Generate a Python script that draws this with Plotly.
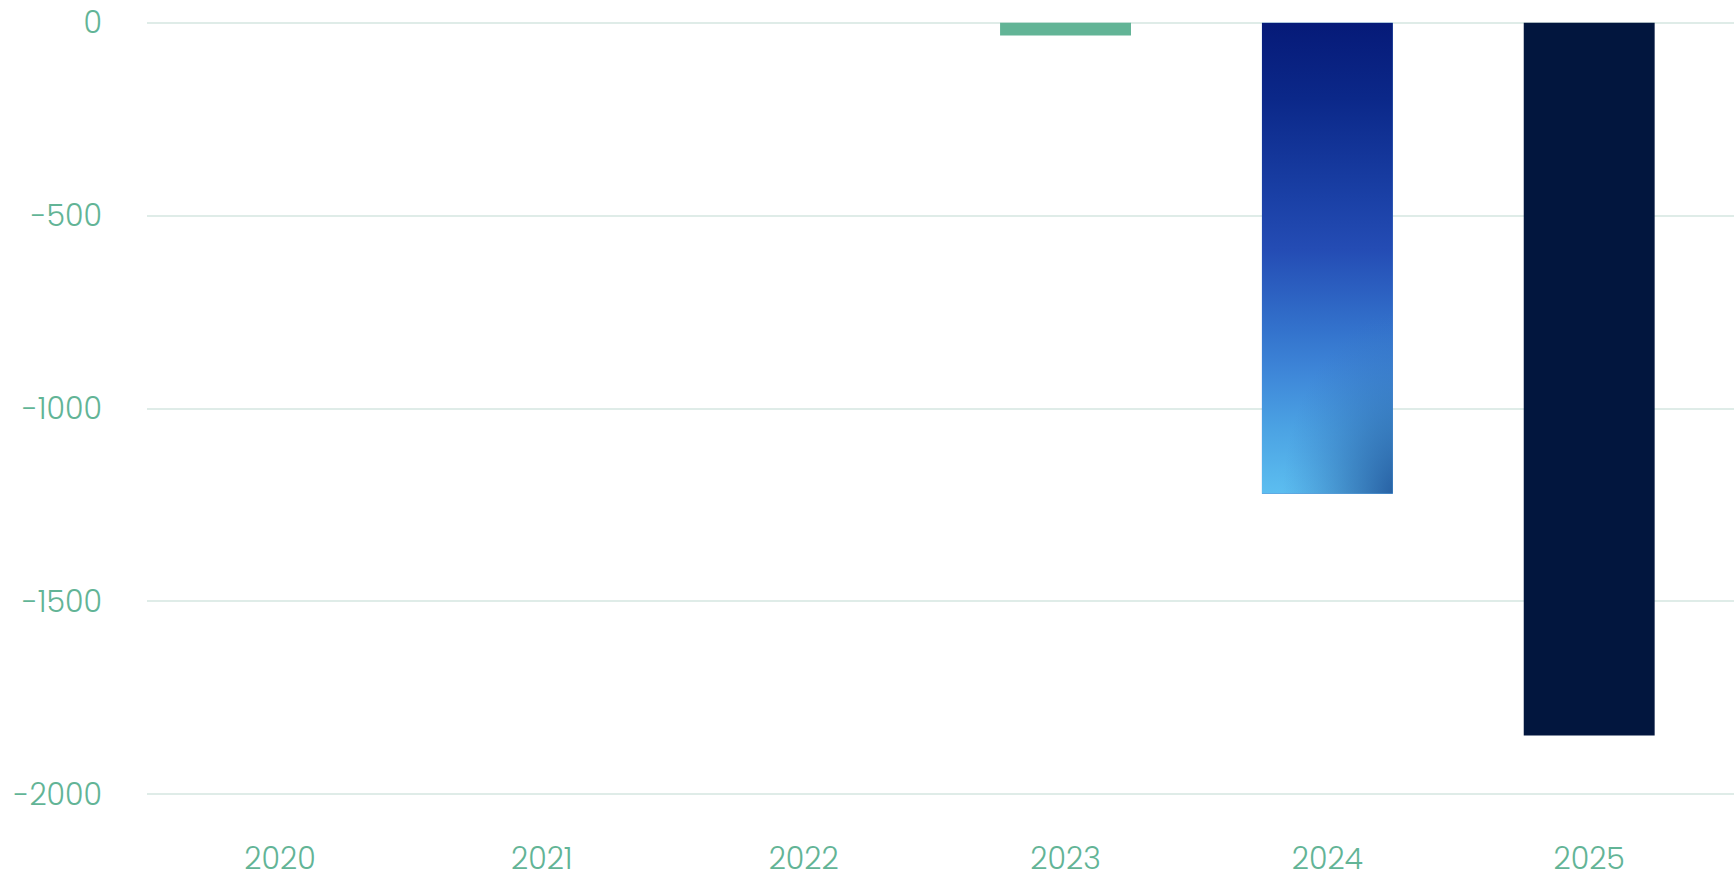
import base64
import plotly.graph_objects as go

# Annual values
years = ["2020", "2021", "2022", "2023", "2024", "2025"]
values = [0, 0, 0, -33, -1221, -1848]
bar_colors = ["#62b496", "#62b496", "#62b496", "#62b496", "#2f6ec6", "#02163e"]

# Y axis ticks
y_ticks = [0, -500, -1000, -1500, -2000]
y_tick_text = ["0", "-500", "-1000", "-1500", "-2000"]

# Which bar gets the gradient fill and its width in category units
gradient_year = "2024"
bar_width = 0.5

label_color = "#62b496"
grid_color = "#dfece8"
font_family = "Poppins, Lato, 'Open Sans', sans-serif"

fig = go.Figure()
fig.add_trace(go.Bar(
    x=years,
    y=values,
    width=bar_width,
    marker=dict(color=bar_colors, line=dict(width=0)),
    hovertemplate="%{x}: %{y}<extra></extra>",
))

# Gradient paint for the highlighted bar: navy at the top to sky blue at the
# bottom, with a darker shade towards the lower right corner.
svg = """<svg xmlns='http://www.w3.org/2000/svg' width='130' height='470' viewBox='0 0 130 470' preserveAspectRatio='none'>
<defs>
<linearGradient id='v' x1='0' y1='0' x2='0' y2='1'>
<stop offset='0' stop-color='#061a78'/>
<stop offset='0.16' stop-color='#0b2889'/>
<stop offset='0.37' stop-color='#1a40a6'/>
<stop offset='0.48' stop-color='#244cb4'/>
<stop offset='0.65' stop-color='#3372cc'/>
<stop offset='0.75' stop-color='#3f88d9'/>
<stop offset='0.85' stop-color='#4aa0e2'/>
<stop offset='1' stop-color='#5cbef0'/>
</linearGradient>
<radialGradient id='r' gradientUnits='userSpaceOnUse' cx='140' cy='480' r='120' gradientTransform='translate(140 480) scale(1 1.6) translate(-140 -480)'>
<stop offset='0' stop-color='#1d4f94' stop-opacity='0.95'/>
<stop offset='0.45' stop-color='#2a62a6' stop-opacity='0.55'/>
<stop offset='1' stop-color='#3a78c0' stop-opacity='0'/>
</radialGradient>
</defs>
<rect x='0' y='0' width='130' height='470' fill='url(#v)'/>
<rect x='0' y='0' width='130' height='470' fill='url(#r)'/>
</svg>"""
svg_uri = "data:image/svg+xml;base64," + base64.b64encode(svg.encode()).decode()

gi = years.index(gradient_year)
fig.add_layout_image(dict(
    source=svg_uri,
    xref="x", yref="y",
    x=gi - bar_width / 2, y=0,
    sizex=bar_width, sizey=-values[gi],
    xanchor="left", yanchor="top",
    sizing="stretch",
    layer="above",
))

fig.update_layout(
    width=1734,
    height=874,
    margin=dict(l=147, r=0, t=19, b=76, autoexpand=False),
    paper_bgcolor="white",
    plot_bgcolor="white",
    showlegend=False,
    bargap=0.5,
    font=dict(family=font_family, size=30, color=label_color, weight=300),
)

fig.update_xaxes(
    type="category",
    range=[-0.508, 5.553],
    automargin=False,
    showgrid=False,
    zeroline=False,
    showline=False,
    ticks="outside",
    ticklen=34,
    tickcolor="rgba(0,0,0,0)",
    tickfont=dict(family=font_family, size=30, color=label_color, weight=300),
)

fig.update_yaxes(
    range=[-2010, 10],
    automargin=False,
    tickvals=y_ticks,
    ticktext=y_tick_text,
    showgrid=True,
    gridcolor=grid_color,
    gridwidth=2,
    zeroline=False,
    showline=False,
    ticks="outside",
    ticklen=38,
    tickcolor="rgba(0,0,0,0)",
    tickfont=dict(family=font_family, size=30, color=label_color, weight=300),
)

fig.write_html("out.html")
